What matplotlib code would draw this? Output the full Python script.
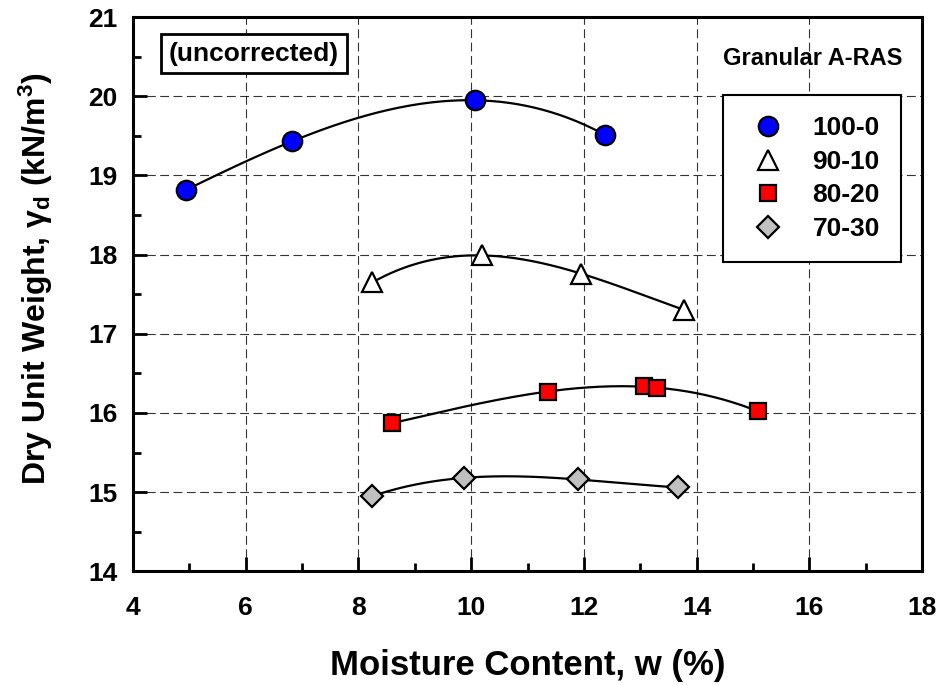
import numpy as np
import matplotlib
matplotlib.use("Agg")
import matplotlib.pyplot as plt
from matplotlib.ticker import MultipleLocator

plt.rcParams['font.family'] = ['Liberation Sans', 'DejaVu Sans']
plt.rcParams['font.weight'] = 'bold'
plt.rcParams['mathtext.fontset'] = 'custom'
plt.rcParams['mathtext.rm'] = 'Liberation Sans:bold'
plt.rcParams['mathtext.it'] = 'Liberation Sans:bold'
plt.rcParams['mathtext.bf'] = 'Liberation Sans:bold'
plt.rcParams['mathtext.default'] = 'rm'

# data
w_100 = [4.95, 6.82, 10.07, 12.38]
g_100 = [18.82, 19.43, 19.95, 19.51]

w_90 = [8.25, 10.20, 11.95, 13.78]
g_90 = [17.65, 17.99, 17.76, 17.30]

w_80 = [8.59, 11.36, 13.07, 13.30, 15.09]
g_80 = [15.87, 16.27, 16.34, 16.31, 16.02]

w_70 = [8.25, 9.87, 11.89, 13.67]
g_70 = [14.95, 15.18, 15.16, 15.06]

labels = ['100-0', '90-10', '80-20', '70-30']

fig = plt.figure(figsize=(9.42, 6.85), dpi=100)
ax = fig.add_axes([0.141, 0.166, 0.838, 0.809])

series = [
    (w_100, g_100, 'o', 'blue', 14),
    (w_90, g_90, '^', 'white', 14),
    (w_80, g_80, 's', 'red', 12),
    (w_70, g_70, 'D', '#c0c0c0', 11),
]

for (w, g, m, c, ms), lab in zip(series, labels):
    # smooth trend curve through the compaction points
    p = np.polyfit(w, g, 3)
    xs = np.linspace(min(w), max(w), 200)
    ax.plot(xs, np.polyval(p, xs), color='black', lw=1.6, zorder=2)
    ax.plot(w, g, ls='none', marker=m, markersize=ms, markerfacecolor=c,
            markeredgecolor='black', markeredgewidth=1.6, label=lab, zorder=3)

ax.set_xlim(4, 18)
ax.set_ylim(14, 21)
ax.xaxis.set_major_locator(MultipleLocator(2))
ax.xaxis.set_minor_locator(MultipleLocator(1))
ax.yaxis.set_major_locator(MultipleLocator(1))
ax.yaxis.set_minor_locator(MultipleLocator(0.5))
ax.tick_params(which='both', direction='in', width=2, labelsize=19)
ax.tick_params(axis='x', which='major', pad=18)
ax.tick_params(axis='y', which='major', pad=11)
ax.tick_params(which='major', length=10)
ax.tick_params(which='minor', length=6)
for s in ax.spines.values():
    s.set_linewidth(2.2)

ax.grid(True, which='major', color='black', lw=0.8, ls=(0, (8, 4)), alpha=0.8)
ax.set_axisbelow(True)

ax.set_xlabel('Moisture Content, w (%)', fontsize=25, fontweight='bold')
ax.xaxis.set_label_coords(0.5, -0.14)
ax.set_ylabel(r'Dry Unit Weight, $\gamma_d$ (kN/m$^3$)', fontsize=23, fontweight='bold')
ax.yaxis.set_label_coords(-0.098, 0.529)

ax.text(6.15, 20.54, '(uncorrected)', fontsize=19, fontweight='bold', ha='center', va='center',
        bbox=dict(boxstyle='square,pad=0.3', facecolor='white', edgecolor='black', lw=2))
ax.text(17.65, 20.48, 'Granular A-RAS', fontsize=17, fontweight='bold', ha='right', va='center')

leg = ax.legend(loc='upper right', bbox_to_anchor=(0.973, 0.859), fontsize=19, frameon=True,
                fancybox=False, edgecolor='black', framealpha=1, handletextpad=0.8,
                labelspacing=0.36, borderpad=0.8, handlelength=1.8, borderaxespad=0)
leg.get_frame().set_linewidth(1.5)

fig.savefig('out.png', dpi=100)
